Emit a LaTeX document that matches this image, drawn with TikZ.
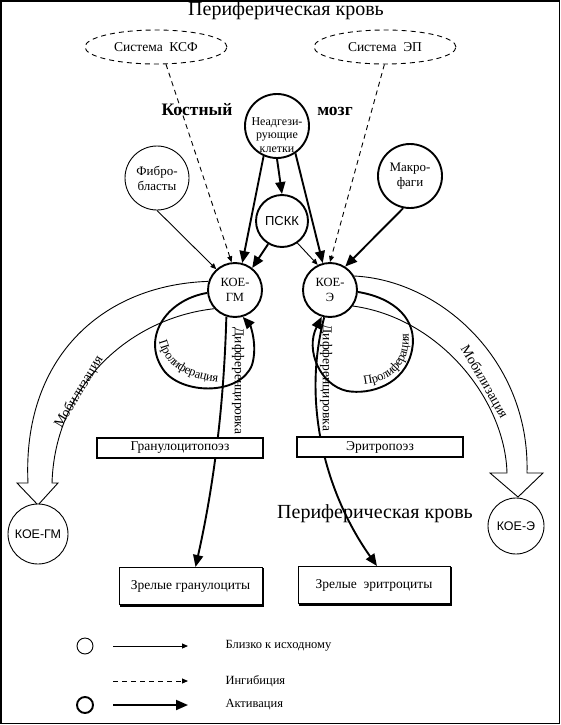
\documentclass[tikz,border=0pt]{standalone}
\usepackage{fontspec}
\setmainfont{Liberation Serif}
\newfontfamily\sansf{Liberation Sans}
\usetikzlibrary{arrows.meta,shapes.geometric,decorations.text,backgrounds}
\newcommand{\fsz}[2]{\fontsize{#1pt}{#2pt}\selectfont}
\begin{document}
\begin{tikzpicture}[x=1pt,y=-1pt,
  thn/.style={line width=0.9pt},
  thk/.style={line width=1.9pt},
  dsh/.style={line width=0.9pt, dash pattern=on 5pt off 4pt},
  bigtip/.style={-{Triangle[length=12pt,width=10pt]}},
  smalltip/.style={-{Triangle[length=6pt,width=5pt]}},
  cthk/.style={circle, draw, line width=1.9pt, fill=white, inner sep=0pt},
  cthn/.style={circle, draw, line width=0.9pt, fill=white, inner sep=0pt},
  ell/.style={ellipse, draw, dash pattern=on 5pt off 4pt, line width=0.9pt, minimum width=142pt, minimum height=34pt, inner sep=0pt, font=\fsz{13.5}{15}},
  procbox/.style={draw, fill=white, line width=1.6pt, minimum width=166pt, minimum height=20pt, inner sep=0pt, font=\fsz{13.5}{15}},
  matbox/.style={draw, fill=white, line width=1pt, minimum height=37pt, inner sep=0pt, font=\fsz{13.5}{15}},
  proltext/.style={decorate, decoration={text along path, text align=center, raise=2pt, text={|\fsz{12.5}{14}|Пролиферация}}},
]
\useasboundingbox (0,0) rectangle (561,725);
\draw[line width=1.5pt] (1,1) rectangle (559.5,723.5);

% top
\node[font=\fsz{20}{22}] (title) at (286,11) {Периферическая кровь};
\node[ell] (ksf) at (156,47) {Система\ \ КСФ};
\node[ell] (ep) at (385,47) {Система\ \ ЭП};
\node[font=\bfseries\fsz{17.5}{19}, anchor=base] (bm1) at (197,115) {Костный};
\node[font=\bfseries\fsz{17.5}{19}, anchor=base] (bm2) at (335,115) {мозг};

% cells
\node[cthk, minimum size=64pt] (gez) at (277,126) {};
\node[align=center, font=\fsz{12}{13.5}] (gezt) at (277,135) {Неадгези-\\рующие\\клетки};
\node[cthn, minimum size=64pt, align=center, font=\fsz{13}{15}] (fib) at (157,178) {Фибро-\\бласты};
\node[cthk, minimum size=64pt, align=center, font=\fsz{13}{15}] (mak) at (410,176) {Макро-\\фаги};
\node[cthk, minimum size=52pt, font=\sansf\fsz{13}{15}] (pskk) at (282,221) {ПСКК};
\node[cthk, minimum size=54pt, align=center, font=\fsz{12.5}{15}] (gm) at (235,290) {КОЕ-\\ГМ};
\node[cthk, minimum size=54pt, align=center, font=\fsz{12.5}{15}] (ke) at (330,290) {КОЕ-\\Э};
\node[cthn, minimum size=60pt, font=\sansf\fsz{12.5}{14}] (gm2) at (38,534) {КОЕ-ГМ};
\node[cthn, minimum size=56pt, font=\sansf\fsz{12.5}{14}] (ke2) at (516,526) {КОЕ-Э};

% boxes
\node[procbox] (gp) at (180,448) {Гранулоцитопоэз};
\node[procbox] (erp) at (380,447) {Эритропоэз};
\node[matbox, minimum width=143pt] (zg) at (190.5,586) {Зрелые гранулоциты};
\node[matbox, minimum width=152pt] (ze) at (374,585) {Зрелые\ \ эритроциты};
\draw[line width=1.2pt] ([shift={(1,1)}]zg.south west) -- ([shift={(1,1)}]zg.south east) -- ([shift={(1,1)}]zg.north east);
\draw[line width=1.2pt] ([shift={(1,1)}]ze.south west) -- ([shift={(1,1)}]ze.south east) -- ([shift={(1,1)}]ze.north east);

\node[font=\fsz{20}{22}] (title2) at (375,514) {Периферическая кровь};

% rotated labels
\node[font=\fsz{14}{16}, rotate=59] (mobl) at (79,392) {Мобилизация};
\node[font=\fsz{14}{16}, rotate=-60] (mobr) at (484,382) {Мобилизация};
\node[font=\fsz{13.5}{15}, rotate=-90] (difl) at (238,381) {Дифференцировка};
\node[font=\fsz{13.5}{15}, rotate=-90] (difr) at (326,378) {Дифференцировка};
\path[proltext] (156,325) .. controls (153,362) and (182,386) .. (235,384);
\path[proltext] (345,386) .. controls (372,390) and (405,380) .. (410,348) .. controls (412,335) and (410,325) .. (405,315);

% legend
\node[cthn, minimum size=16pt] (lc1) at (85,646) {};
\node[cthk, minimum size=16pt] (lc3) at (85,705) {};
\coordinate (la1) at (113,646); \coordinate (lb1) at (188,646);
\coordinate (la2) at (113,681); \coordinate (lb2) at (188,681);
\coordinate (la3) at (113,705); \coordinate (lb3) at (188,705);
\node[anchor=west, font=\fsz{12.5}{14}] (lt1) at (222,646) {Близко к исходному};
\node[anchor=west, font=\fsz{12.5}{14}] (lt2) at (222,681) {Ингибиция};
\node[anchor=west, font=\fsz{12.5}{14}] (lt3) at (222,705) {Активация};
\draw[thn, smalltip] (la1) -- (lb1);
\draw[dsh, smalltip] (la2) -- (lb2);
\draw[thk, bigtip] (la3) -- (lb3);

\begin{scope}[on background layer]
% inputs
\draw[thk, bigtip] (gez.south) -- (pskk.north);
\draw[thk, bigtip] (gez.246) -- (gm.75);
\draw[thk, bigtip] (gez.304) -- (ke.105);
\draw[thk, bigtip] (pskk.239) -- (gm.52);
\draw[thn, smalltip] (pskk.305) -- (ke.116);
\draw[thn, smalltip] (fib.south) -- (gm.132);
\draw[thk, bigtip] (mak.258) -- (ke.57);
\draw[dsh, smalltip] (ksf.300) -- (gm.97);
\draw[dsh, smalltip] (ep.268) -- (ke.90);
% mobilization
\draw[thn] (gm.162) .. controls (100,285) and (22,360) .. (28,483) -- (17,483) -- (38,505) -- (58,483) -- (52,483) .. controls (55,385) and (130,318) .. (gm.222);
\draw[thn] (ke.30) .. controls (440,280) and (530,360) .. (527,473) -- (543,473) -- (518,497) -- (490,473) -- (507,473) .. controls (505,400) and (440,318) .. (ke.325);
% proliferation loops
\draw[thk, bigtip] (gm.186) .. controls (165,300) and (140,340) .. (165,372) .. controls (185,395) and (240,395) .. (252,365) .. controls (258,345) and (250,325) .. (gm.286);
\draw[thk, bigtip] (ke.356) .. controls (395,298) and (418,320) .. (412,350) .. controls (405,385) and (370,395) .. (347,391) .. controls (320,385) and (305,350) .. (ke.253);
% differentiation
\draw[thk, bigtip] (gm.252) .. controls (224,400) and (215,480) .. ([xshift=5pt]zg.north);
\draw[thk, bigtip] (ke.258) .. controls (300,410) and (330,500) .. ([xshift=3pt]ze.north);
\end{scope}
\end{tikzpicture}
\end{document}
